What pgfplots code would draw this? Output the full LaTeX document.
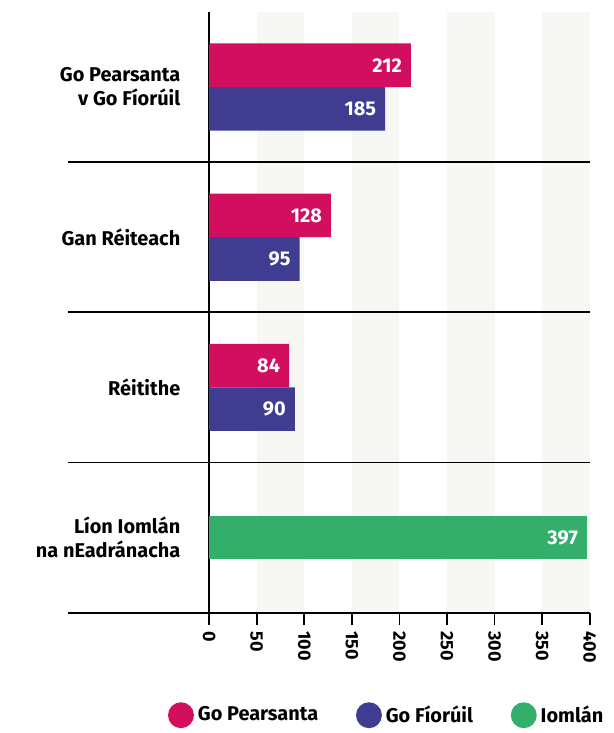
\documentclass[border=0pt]{standalone}
\usepackage{fontspec}
\setmainfont{Fira Sans}
\usepackage{pgfplots}
\pgfplotsset{compat=1.18}
\definecolor{cpink}{HTML}{D10F5E}
\definecolor{cblue}{HTML}{3F3C92}
\definecolor{cgreen}{HTML}{33AE6B}
\definecolor{cband}{HTML}{F7F8F3}

\begin{document}
\begin{tikzpicture}
\begin{axis}[
    scale only axis,
    width=191pt, height=301.5pt,
    xbar,
    xmin=0, xmax=400,
    ymin=-0.5, ymax=3.5,
    y dir=reverse,
    clip=false,
    axis lines=left,
    axis line style={-, black, line width=0.9pt},
    xtick={0,50,...,400},
    x tick style={black, line width=0.9pt},
    tick align=outside,
    major tick length=6pt,
    xticklabel style={rotate=-90, anchor=west, font=\bfseries\small},
    /pgf/number format/assume math mode=true,
    ytick={0,1,2,3},
    yticklabels={Go Pearsanta\\v Go Fíorúil, Gan Réiteach, Réitithe, Líon Iomlán\\na nEadránacha},
    yticklabel style={align=right, font=\bfseries\normalsize, xshift=-5pt},
    y tick style={draw=none},
    bar width=0.29,
    nodes near coords,
    every node near coord/.append style={anchor=east, text=white, font=\bfseries\normalsize, xshift=-1pt},
    legend style={at={(1,0)}, anchor=east, xshift=12pt, yshift=-51.5pt, draw=none,
        legend columns=-1, font=\bfseries\normalsize,
        /tikz/every even column/.append style={column sep=17pt}},
    legend cell align=left,
]
% alternating background bands
\fill[cband] (axis cs:50,-0.5) rectangle (axis cs:100,3.5);
\fill[cband] (axis cs:150,-0.5) rectangle (axis cs:200,3.5);
\fill[cband] (axis cs:250,-0.5) rectangle (axis cs:300,3.5);
\fill[cband] (axis cs:350,-0.5) rectangle (axis cs:400,3.5);
% group separators
\draw[black, line width=0.9pt] ([xshift=-71pt]axis cs:0,0.5) -- (axis cs:400,0.5);
\draw[black, line width=0.9pt] ([xshift=-71pt]axis cs:0,1.5) -- (axis cs:400,1.5);
\draw[black, line width=0.9pt] ([xshift=-71pt]axis cs:0,2.5) -- (axis cs:400,2.5);
\draw[black, line width=0.9pt] ([xshift=-71pt]axis cs:0,3.5) -- (axis cs:400,3.5);
\draw[black, line width=0.9pt] (axis cs:0,-0.5) -- (axis cs:0,3.5);

\addplot[fill=cpink, draw=none, bar shift=-0.145,
    legend image code/.code={\fill[cpink] (3pt,0pt) circle (6.5pt);}]
    coordinates {(212,0) (128,1) (84,2)};
\addlegendentry{Go Pearsanta}
\addplot[fill=cblue, draw=none, bar shift=0.145,
    legend image code/.code={\fill[cblue] (3pt,0pt) circle (6.5pt);}]
    coordinates {(185,0) (95,1) (90,2)};
\addlegendentry{Go Fíorúil}
\addplot[fill=cgreen, draw=none, bar shift=0,
    legend image code/.code={\fill[cgreen] (3pt,0pt) circle (6.5pt);}]
    coordinates {(397,3)};
\addlegendentry{Iomlán}
\end{axis}
\path ([xshift=-105pt,yshift=-59pt]current axis.south west) rectangle ([xshift=11pt,yshift=6pt]current axis.north east);
\end{tikzpicture}
\end{document}
